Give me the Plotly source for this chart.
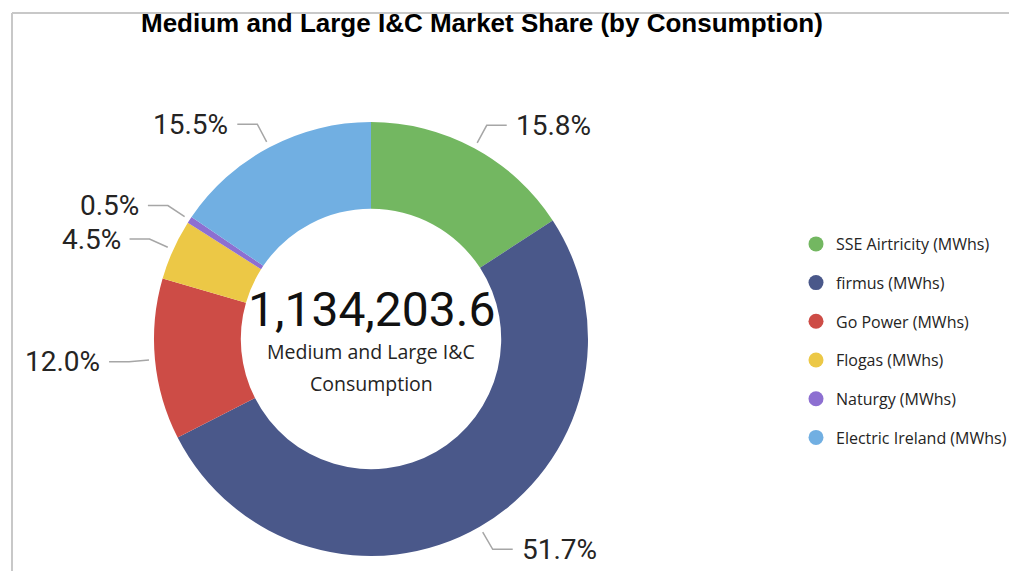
import math
import plotly.graph_objects as go

# ---- data ----
suppliers = ["SSE Airtricity (MWhs)", "firmus (MWhs)", "Go Power (MWhs)",
             "Flogas (MWhs)", "Naturgy (MWhs)", "Electric Ireland (MWhs)"]
consumption_mwh = [179204.2, 586383.3, 136104.4, 51039.2, 5671.0, 175801.5]
colors = ["#73B761", "#4A588A", "#CD4C46", "#ECC846", "#8D6FD1", "#71AFE2"]
title_text = "Medium and Large I&C Market Share (by Consumption)"
center_caption = ["Medium and Large I&C", "Consumption"]

# ---- layout geometry (window pixels) ----
OFF = 8                      # page body margin
W, H = 1009, 563             # figure size so that it fits the window
CX, CY, R = 371, 339, 217
HOLE = 0.6

def px(x):
    return (x - OFF) / W

def py(y):
    return 1 - (y - OFF) / H

fig = go.Figure()

fig.add_trace(go.Pie(
    labels=suppliers, values=consumption_mwh, hole=HOLE, sort=False,
    direction="clockwise", rotation=0,
    marker=dict(colors=colors, line=dict(width=0)),
    textinfo="none", showlegend=False,
    domain=dict(x=[px(CX - R), px(CX + R)], y=[py(CY + R), py(CY - R)]),
))

# legend entries with circle markers
for name, col in zip(suppliers, colors):
    fig.add_trace(go.Scatter(
        x=[None], y=[None], mode="markers", name=name, legendgroup=name,
        marker=dict(size=15, color=col, symbol="circle"),
    ))

total = sum(consumption_mwh)
shapes = []
annotations = []
cum = 0.0
for v in consumption_mwh:
    mid = (cum + v / 2) / total * 2 * math.pi
    cum += v
    s, c = math.sin(mid), math.cos(mid)
    r1, r2 = R + 6, R + 26
    x1, y1 = CX + r1 * s, CY - r1 * c
    x2, y2 = CX + r2 * s, CY - r2 * c
    side = 1 if s >= 0 else -1
    x3 = x2 + side * 20
    path = f"M {px(x1)} {py(y1)} L {px(x2)} {py(y2)} L {px(x3)} {py(y2)}"
    shapes.append(dict(type="path", xref="paper", yref="paper", path=path,
                       line=dict(color="#A6A6A6", width=1.5)))
    annotations.append(dict(
        x=px(x3 + side * 7), y=py(y2), xref="paper", yref="paper",
        text=f"{v / total * 100:.1f}%", showarrow=False,
        xanchor="left" if side > 0 else "right", yanchor="middle",
        font=dict(family="Roboto", size=28, color="#252423"),
    ))

# center texts
annotations.append(dict(x=px(371.5), y=py(309), xref="paper", yref="paper",
                        text=f"{total:,.1f}", showarrow=False,
                        xanchor="center", yanchor="middle",
                        font=dict(family="Roboto", size=48, color="#111111")))
annotations.append(dict(x=px(CX), y=py(351), xref="paper", yref="paper",
                        text=center_caption[0], showarrow=False,
                        xanchor="center", yanchor="middle",
                        font=dict(family="Open Sans", size=19.5, color="#252423")))
annotations.append(dict(x=px(CX), y=py(383), xref="paper", yref="paper",
                        text=center_caption[1], showarrow=False,
                        xanchor="center", yanchor="middle",
                        font=dict(family="Open Sans", size=19.5, color="#252423")))
# title
annotations.append(dict(x=px(482), y=py(23), xref="paper", yref="paper",
                        text=f"<b>{title_text}</b>", showarrow=False,
                        xanchor="center", yanchor="middle",
                        font=dict(family="Liberation Sans", size=26, color="#000000")))

# frame lines
shapes.append(dict(type="line", xref="paper", yref="paper",
                   x0=px(12), y0=py(13), x1=1, y1=py(13),
                   line=dict(color="#C8C8C8", width=2)))
shapes.append(dict(type="line", xref="paper", yref="paper",
                   x0=px(12), y0=py(13), x1=px(12), y1=0,
                   line=dict(color="#C8C8C8", width=2)))

fig.update_layout(
    width=W, height=H, margin=dict(l=0, r=0, t=0, b=0),
    paper_bgcolor="white", plot_bgcolor="white",
    xaxis=dict(visible=False), yaxis=dict(visible=False),
    shapes=shapes, annotations=annotations,
    legend=dict(x=px(796), y=py(227), xanchor="left", yanchor="top",
                traceorder="grouped", tracegroupgap=14.9,
                font=dict(family="Open Sans", size=16, color="#252423"),
                itemsizing="trace", bgcolor="rgba(0,0,0,0)"),
    showlegend=True,
)

fig.write_html("out.html")
